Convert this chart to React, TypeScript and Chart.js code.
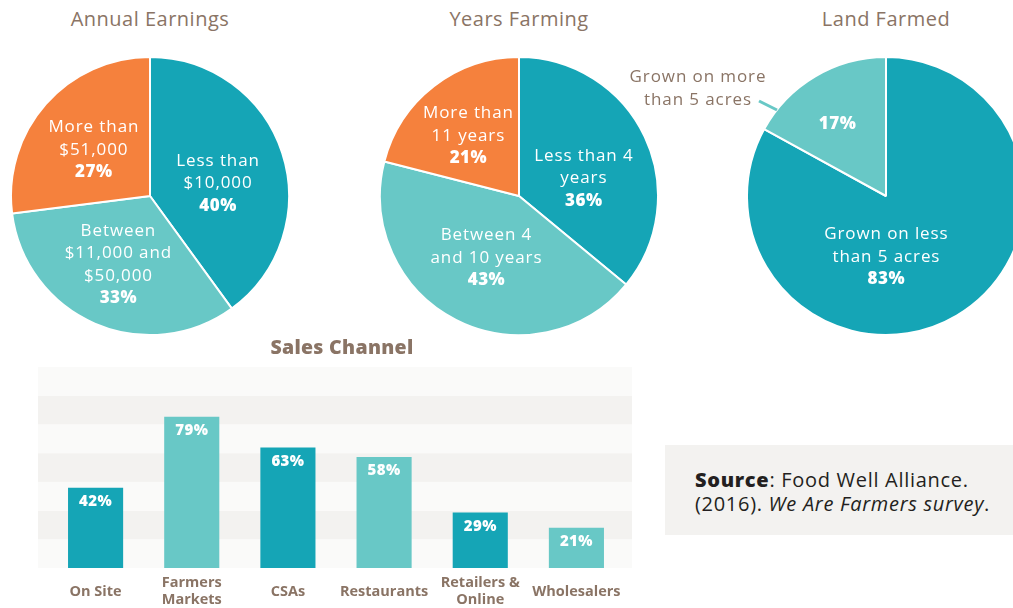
import React, { useEffect, useRef } from "react";
import { Chart, registerables } from "chart.js";

Chart.register(...registerables);

// ---------- data ----------
const earningsLabels: string[][] = [["Less than", "$10,000"], ["Between", "$11,000 and", "$50,000"], ["More than", "$51,000"]];
const earningsValues: number[] = [40, 33, 27];

const yearsLabels: string[][] = [["Less than 4", "years"], ["Between 4", "and 10 years"], ["More than", "11 years"]];
const yearsValues: number[] = [36, 43, 21];

const landLabels: string[][] = [["Grown on less", "than 5 acres"], ["Grown on more", "than 5 acres"]];
const landValues: number[] = [83, 17];

const salesCategories: string[][] = [["On Site"], ["Farmers", "Markets"], ["CSAs"], ["Restaurants"], ["Retailers &", "Online"], ["Wholesalers"]];
const salesValues: number[] = [42, 79, 63, 58, 29, 21];
const salesBands: number[] = [0, 15, 30, 45, 60, 75, 90, 105];

// ---------- style ----------
const DARK = "#15A5B6";
const LIGHT = "#68C8C6";
const ORANGE = "#F5813D";
const BROWN = "#8A7465";
const FONT = "'Open Sans'";

type PieProps = {
  left: number;
  top: number;
  width: number;
  height: number;
  padLeft: number;
  labels: string[][];
  values: number[];
  colors: string[];
  offsets: number[][];
  insideText: boolean[];
  outside?: boolean;
};

function PieChart(p: PieProps) {
  const ref = useRef<HTMLCanvasElement>(null);
  useEffect(() => {
    if (!ref.current) return;
    const labelPlugin = {
      id: "pieLabels",
      afterDatasetsDraw(chart: any) {
        const ctx = chart.ctx;
        const meta = chart.getDatasetMeta(0);
        const lh = 22.5;
        meta.data.forEach((arc: any, i: number) => {
          const c = arc.getCenterPoint();
          const [dx, dy] = p.offsets[i];
          const lines = p.insideText[i] ? [...p.labels[i], p.values[i] + "%"] : [p.values[i] + "%"];
          const cx = c.x + dx;
          const cy = c.y + dy;
          const y0 = cy - ((lines.length - 1) * lh) / 2;
          ctx.save();
          ctx.fillStyle = "#ffffff";
          ctx.textAlign = "center";
          ctx.textBaseline = "middle";
          lines.forEach((t: string, k: number) => {
            const last = k === lines.length - 1;
            ctx.font = last ? `800 17px ${FONT}` : `400 17px ${FONT}`;
            (ctx as any).letterSpacing = last ? "0.5px" : "0.9px";
            ctx.fillText(t, cx, y0 + k * lh);
          });
          ctx.restore();
        });
        if (p.outside) {
          const arc: any = meta.data[1];
          const cx = arc.x;
          const cy = arc.y;
          ctx.save();
          ctx.fillStyle = BROWN;
          ctx.textAlign = "center";
          ctx.textBaseline = "middle";
          ctx.font = `400 17px ${FONT}`;
          (ctx as any).letterSpacing = "0.9px";
          ctx.fillText(p.labels[1][0], cx - 188, cy - 119);
          ctx.fillText(p.labels[1][1], cx - 188, cy - 96);
          ctx.strokeStyle = LIGHT;
          ctx.lineWidth = 3;
          ctx.beginPath();
          ctx.moveTo(cx - 127, cy - 95);
          ctx.lineTo(cx - 109, cy - 86);
          ctx.stroke();
          ctx.restore();
        }
      },
    };
    const chart = new Chart(ref.current, {
      type: "pie",
      data: {
        labels: p.labels.map((l) => l.join(" ")),
        datasets: [
          {
            data: p.values,
            backgroundColor: p.colors,
            borderColor: "#ffffff",
            borderWidth: 2,
            hoverOffset: 0,
          },
        ],
      },
      options: {
        responsive: false,
        animation: false,
        layout: { padding: { left: p.padLeft, top: 0, right: 0, bottom: 0 } },
        plugins: { legend: { display: false }, tooltip: { enabled: false }, title: { display: false } },
      },
      plugins: [labelPlugin],
    });
    return () => chart.destroy();
  }, []);
  return (
    <canvas
      ref={ref}
      width={p.width}
      height={p.height}
      style={{ position: "absolute", left: p.left, top: p.top, width: p.width, height: p.height }}
    />
  );
}

function BarChart() {
  const ref = useRef<HTMLCanvasElement>(null);
  useEffect(() => {
    if (!ref.current) return;
    const stripePlugin = {
      id: "stripes",
      beforeDatasetsDraw(chart: any) {
        const ctx = chart.ctx;
        const y = chart.scales.y;
        const { left, right } = chart.chartArea;
        ctx.save();
        for (let i = 0; i < salesBands.length - 1; i++) {
          const y1 = y.getPixelForValue(salesBands[i]);
          const y2 = y.getPixelForValue(salesBands[i + 1]);
          ctx.fillStyle = i % 2 === 0 ? "#FAFAF9" : "#F3F2F0";
          ctx.fillRect(left - 9.5, y2, right - left + 17, y1 - y2);
        }
        ctx.restore();
      },
    };
    const valuePlugin = {
      id: "barValues",
      afterDatasetsDraw(chart: any) {
        const ctx = chart.ctx;
        const meta = chart.getDatasetMeta(0);
        ctx.save();
        ctx.fillStyle = "#ffffff";
        ctx.textAlign = "center";
        ctx.textBaseline = "middle";
        ctx.font = `800 15px ${FONT}`;
        (ctx as any).letterSpacing = "0.4px";
        meta.data.forEach((bar: any, i: number) => {
          ctx.fillText(salesValues[i] + "%", bar.x, bar.y + 14);
        });
        ctx.restore();
      },
    };
    const chart = new Chart(ref.current, {
      type: "bar",
      data: {
        labels: salesCategories as any,
        datasets: [
          {
            data: salesValues,
            backgroundColor: salesValues.map((_, i) => (i % 2 === 0 ? DARK : LIGHT)),
            barPercentage: 0.573,
            categoryPercentage: 1,
          },
        ],
      },
      options: {
        responsive: false,
        animation: false,
        layout: { padding: { left: 47.5, right: 35.5, top: 7, bottom: 1 } },
        plugins: { legend: { display: false }, tooltip: { enabled: false }, title: { display: false } },
        scales: {
          x: {
            grid: { display: false, drawTicks: false },
            border: { display: false },
            ticks: {
              color: BROWN,
              font: { family: FONT, size: 14.5, weight: 700 as any, lineHeight: 1.17 },
              padding: 15,
              crossAlign: "center",
              maxRotation: 0,
              autoSkip: false,
            },
          },
          y: { display: false, min: 0, max: 105 },
        },
      },
      plugins: [stripePlugin, valuePlugin],
    });
    return () => chart.destroy();
  }, []);
  return (
    <canvas
      ref={ref}
      width={660}
      height={273}
      style={{ position: "absolute", left: 0, top: 360, width: 660, height: 273 }}
    />
  );
}

function Title({ text, cx, cy, bold }: { text: string; cx: number; cy: number; bold?: boolean }) {
  return (
    <div
      style={{
        position: "absolute",
        left: cx - 150,
        width: 300,
        top: cy - 12,
        lineHeight: "24px",
        textAlign: "center",
        fontFamily: FONT,
        fontSize: bold ? 19.5 : 20,
        fontWeight: bold ? 800 : 400,
        letterSpacing: bold ? "0.3px" : "0.5px",
        color: BROWN,
      }}
    >
      {text}
    </div>
  );
}

export default function App() {
  return (
    <div
      style={{
        position: "absolute",
        left: 0,
        top: 0,
        width: 1013,
        height: 608,
        overflow: "hidden",
        background: "#ffffff",
      }}
    >
      <Title text="Annual Earnings" cx={150} cy={19} />
      <Title text="Years Farming" cx={519} cy={19} />
      <Title text="Land Farmed" cx={886} cy={19} />
      <PieChart
        left={10}
        top={56}
        width={280}
        height={280}
        padLeft={0}
        labels={earningsLabels}
        values={earningsValues}
        colors={[DARK, LIGHT, ORANGE]}
        offsets={[[2, 9], [-4, 5], [-4, 0]]}
        insideText={[true, true, true]}
      />
      <PieChart
        left={379}
        top={56}
        width={280}
        height={280}
        padLeft={0}
        labels={yearsLabels}
        values={yearsValues}
        colors={[DARK, LIGHT, ORANGE]}
        offsets={[[2, 12], [-1, 0], [-8, -5]]}
        insideText={[true, true, true]}
      />
      <PieChart
        left={620}
        top={56}
        width={406}
        height={280}
        padLeft={126}
        labels={landLabels}
        values={landValues}
        colors={[DARK, LIGHT]}
        offsets={[[-35, 1], [-13, -12]]}
        insideText={[true, false]}
        outside
      />
      <Title text="Sales Channel" cx={342} cy={347} bold />
      <BarChart />
      <div
        style={{
          position: "absolute",
          left: 665,
          top: 445,
          width: 348,
          height: 90,
          background: "#F3F2F0",
        }}
      >
        <div
          style={{
            position: "absolute",
            left: 30,
            top: 23,
            fontFamily: FONT,
            fontSize: 20,
            letterSpacing: "0.7px",
            lineHeight: "24px",
            color: "#231F20",
            whiteSpace: "nowrap",
          }}
        >
          <span style={{ fontWeight: 800 }}>Source</span>: Food Well Alliance.
          <br />
          (2016). <i>We Are Farmers survey</i>.
        </div>
      </div>
    </div>
  );
}
